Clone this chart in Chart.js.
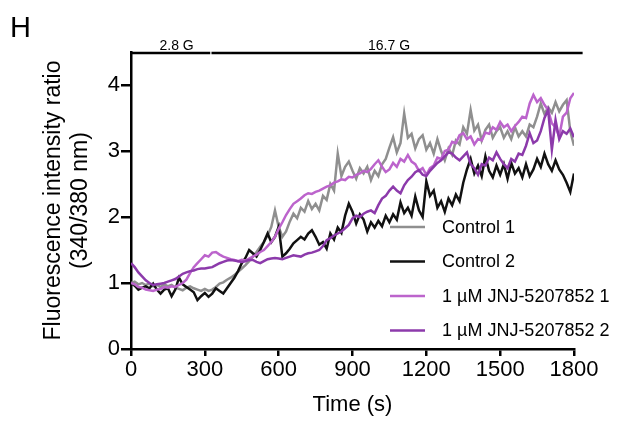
<!DOCTYPE html>
<html>
<head>
<meta charset="utf-8">
<title>Fluorescence intensity ratio</title>
<script src="https://cdn.jsdelivr.net/npm/chart.js@4.4.1/dist/chart.umd.min.js"></script>
<style>
    html, body { margin: 0; padding: 0; background: #fff; }
    #wrap { width: 619px; height: 421px; }
</style>
</head>
<body>
<div id="wrap"><canvas id="fluoChart" width="619" height="421"></canvas></div>
<script>
// sample times (s)
const timeSeconds = [
    0, 15, 30, 45, 60, 75, 90, 105, 120, 135,
    150, 165, 180, 195, 210, 225, 240, 255, 270, 285,
    300, 315, 330, 345, 360, 375, 390, 405, 420, 435,
    450, 465, 480, 495, 510, 525, 540, 555, 570, 585,
    600, 615, 630, 645, 660, 675, 690, 705, 720, 735,
    750, 765, 780, 795, 810, 825, 840, 855, 870, 885,
    900, 915, 930, 945, 960, 975, 990, 1005, 1020, 1035,
    1050, 1065, 1080, 1095, 1110, 1125, 1140, 1155, 1170, 1185,
    1200, 1215, 1230, 1245, 1260, 1275, 1290, 1305, 1320, 1335,
    1350, 1365, 1380, 1395, 1410, 1425, 1440, 1455, 1470, 1485,
    1500, 1515, 1530, 1545, 1560, 1575, 1590, 1605, 1620, 1635,
    1650, 1665, 1680, 1695, 1710, 1725, 1740, 1755, 1770, 1785,
    1800
];

const control1 = [
    1.00, 1.02, 0.98, 1.00, 0.97, 0.99, 0.95, 0.97, 0.94, 0.98,
    0.95, 0.97, 0.93, 0.91, 0.89, 0.93, 0.95, 0.92, 0.90, 0.88,
    0.91, 0.88, 0.90, 0.94, 0.99, 1.01, 1.05, 1.08, 1.12, 1.17,
    1.22, 1.27, 1.33, 1.40, 1.47, 1.55, 1.62, 1.72, 1.85, 2.10,
    1.85, 1.70, 1.78, 1.93, 2.05, 1.98, 2.14, 2.08, 2.24, 2.12,
    2.20, 2.10, 2.32, 2.26, 2.50, 2.40, 2.96, 2.62, 2.76, 2.84,
    2.70, 2.58, 2.74, 2.66, 2.76, 2.56, 2.70, 2.62, 2.80, 2.88,
    3.05, 3.21, 2.98, 3.12, 3.57, 3.20, 3.26, 3.04, 3.18, 3.24,
    3.02, 3.12, 2.96, 3.18, 3.00, 2.86, 3.04, 2.94, 3.16, 3.10,
    3.36, 3.26, 3.62, 3.31, 3.40, 3.16, 3.32, 3.40, 3.20, 3.30,
    3.36, 3.20, 3.30, 3.18, 3.36, 3.22, 3.30, 3.22, 3.40, 3.36,
    3.52, 3.72, 3.56, 3.66, 3.58, 3.74, 3.60, 3.70, 3.77, 3.30,
    3.08
];

const control2 = [
    1.00, 0.96, 0.90, 0.93, 0.95, 0.92, 0.99, 0.90, 0.84, 0.90,
    0.92, 0.80, 0.90, 1.08, 0.98, 0.94, 0.90, 0.86, 0.74, 0.80,
    0.85, 0.79, 0.84, 0.92, 0.88, 0.84, 0.92, 1.00, 1.08, 1.18,
    1.30, 1.38, 1.50, 1.45, 1.40, 1.50, 1.62, 1.75, 1.62, 1.70,
    1.85, 1.40, 1.45, 1.52, 1.60, 1.65, 1.70, 1.66, 1.75, 1.80,
    1.70, 1.58, 1.62, 1.52, 1.75, 1.66, 1.84, 1.76, 2.02, 2.20,
    2.08, 1.90, 2.04, 1.96, 1.78, 1.92, 1.84, 1.94, 1.86, 2.02,
    1.92, 2.04, 1.96, 2.22, 2.06, 2.14, 2.02, 2.31, 2.10, 2.00,
    2.54, 2.32, 2.40, 2.14, 2.24, 2.08, 2.28, 2.18, 2.34, 2.24,
    2.52, 2.72, 2.88, 2.66, 2.78, 2.62, 2.92, 2.70, 2.60, 2.78,
    2.64, 2.80, 2.58, 2.82, 2.66, 2.74, 2.60, 2.80, 2.62, 2.72,
    2.88, 2.76, 2.96, 2.80, 2.70, 2.86, 2.72, 2.64, 2.52, 2.38,
    2.66
];

const jnj1 = [
    1.00, 0.98, 0.94, 0.93, 0.90, 0.89, 0.88, 0.90, 0.91, 0.94,
    0.93, 0.95, 0.94, 0.97, 1.00, 1.05, 1.15, 1.24, 1.30, 1.36,
    1.42, 1.40, 1.46, 1.47, 1.43, 1.40, 1.38, 1.36, 1.35, 1.33,
    1.35, 1.34, 1.37, 1.40, 1.43, 1.47, 1.50, 1.56, 1.62, 1.70,
    1.82, 1.92, 2.03, 2.12, 2.20, 2.24, 2.28, 2.33, 2.36, 2.35,
    2.38, 2.40, 2.43, 2.46, 2.48, 2.52, 2.54, 2.57, 2.56, 2.61,
    2.60, 2.64, 2.66, 2.70, 2.68, 2.73, 2.80, 2.86, 2.76, 2.68,
    2.72, 2.82, 2.76, 2.88, 2.84, 2.94, 2.84, 2.80, 2.70, 2.74,
    2.64, 2.74, 2.78, 2.90, 2.88, 3.00, 3.02, 3.14, 3.12, 3.24,
    3.27, 3.18, 3.22, 3.10, 3.18, 3.16, 3.28, 3.26, 3.36, 3.32,
    3.44, 3.36, 3.40, 3.30, 3.38, 3.44, 3.52, 3.50, 3.72, 3.85,
    3.74, 3.80, 3.70, 3.62, 3.42, 3.36, 3.22, 3.52, 3.58, 3.80,
    3.88
];

const jnj2 = [
    1.30, 1.24, 1.16, 1.10, 1.04, 1.00, 0.97, 0.98, 0.99, 1.00,
    1.02, 1.04, 1.06, 1.10, 1.14, 1.16, 1.18, 1.19, 1.21, 1.22,
    1.22, 1.23, 1.24, 1.27, 1.30, 1.32, 1.34, 1.35, 1.34, 1.33,
    1.32, 1.33, 1.35, 1.35, 1.32, 1.30, 1.33, 1.36, 1.37, 1.38,
    1.37, 1.36, 1.38, 1.40, 1.42, 1.41, 1.40, 1.43, 1.45, 1.46,
    1.48, 1.50, 1.56, 1.65, 1.68, 1.72, 1.75, 1.78, 1.83, 1.88,
    1.98, 2.02, 2.00, 2.05, 2.08, 2.10, 2.06, 2.18, 2.28, 2.32,
    2.40, 2.46, 2.40, 2.36, 2.48, 2.56, 2.61, 2.68, 2.71, 2.64,
    2.62, 2.70, 2.76, 2.82, 2.86, 2.92, 2.98, 2.96, 2.90, 2.86,
    2.92, 2.98, 2.80, 2.74, 2.64, 2.80, 2.78, 2.90, 2.86, 2.98,
    2.88, 2.80, 2.74, 2.88, 2.84, 2.96, 2.94, 3.08, 3.27, 3.12,
    3.16, 3.30, 3.50, 3.62, 3.02, 3.47, 3.18, 3.30, 3.26, 3.34,
    3.21
];

const seriesNames = ['Control 1', 'Control 2', '1 µM JNJ-5207852 1', '1 µM JNJ-5207852 2'];
const seriesValues = [control1, control2, jnj1, jnj2];
const seriesColors = ['#8f8f8f', '#111111', '#bc64cc', '#8c3aab'];

const xTicks = [0, 300, 600, 900, 1200, 1500, 1800];
const yTicks = [0, 1, 2, 3, 4];

// glucose periods shown above the plot (s)
const glucoseLabels = ['2.8 G', '16.7 G'];
const glucosePeriods = [[0, 322], [327, 1835]];

const FONT = "'Liberation Sans', Arial, sans-serif";

function toPoints(values) {
    return values.map((v, i) => ({ x: timeSeconds[i], y: v }));
}

const datasets = seriesNames.map((name, i) => ({
    label: name,
    data: toPoints(seriesValues[i]),
    borderColor: seriesColors[i],
    backgroundColor: seriesColors[i],
    borderWidth: 2.5,
    pointRadius: 0,
    tension: 0,
    order: seriesNames.length - i
}));

// Top bar with glucose labels, panel letter and the legend
const decorPlugin = {
    id: 'decor',
    afterDraw(chart) {
        const ctx = chart.ctx;
        const x = chart.scales.x;
        const barY = chart.chartArea.top + 1;

        ctx.save();
        ctx.strokeStyle = '#000';
        ctx.lineWidth = 2.5;
        ctx.fillStyle = '#000';
        ctx.font = '14px ' + FONT;
        ctx.textAlign = 'center';
        ctx.textBaseline = 'alphabetic';
        glucosePeriods.forEach((p, i) => {
            const x0 = x.getPixelForValue(p[0]);
            const x1 = x.getPixelForValue(p[1]);
            ctx.beginPath();
            ctx.moveTo(x0, barY);
            ctx.lineTo(x1, barY);
            ctx.stroke();
            const cx = i === 0 ? (x0 + x1) / 2 + 6 : (x0 + x1) / 2 - 8;
            ctx.fillText(glucoseLabels[i], cx, barY - 3);
        });

        // panel letter
        ctx.textAlign = 'left';
        ctx.font = '29px ' + FONT;
        ctx.fillText('H', 10, 37);

        // legend
        ctx.font = '18px ' + FONT;
        ctx.textBaseline = 'middle';
        chart.data.datasets.forEach((ds, i) => {
            const y = 227 + i * 34.5;
            ctx.strokeStyle = ds.borderColor;
            ctx.lineWidth = 2.5;
            ctx.beginPath();
            ctx.moveTo(390, y);
            ctx.lineTo(425, y);
            ctx.stroke();
            ctx.fillStyle = '#000';
            ctx.fillText(ds.label, 442, y + 1);
        });
        ctx.restore();
    }
};

const ctx = document.getElementById('fluoChart').getContext('2d');

new Chart(ctx, {
    type: 'line',
    data: { datasets: datasets },
    options: {
        responsive: false,
        devicePixelRatio: 1,
        animation: false,
        layout: {
            padding: { top: 52, right: 45, bottom: 0, left: 0 }
        },
        plugins: {
            legend: { display: false },
            tooltip: { enabled: false }
        },
        scales: {
            x: {
                type: 'linear',
                min: 0,
                max: 1800,
                afterFit: (scale) => { scale.height = 72; },
                afterBuildTicks: (scale) => { scale.ticks = xTicks.map(v => ({ value: v })); },
                border: { display: true, color: '#000', width: 2.5 },
                grid: { drawOnChartArea: false, drawTicks: true, tickLength: 7, color: '#000', lineWidth: 2.5 },
                ticks: {
                    color: '#000',
                    padding: 1,
                    maxRotation: 0,
                    font: { family: FONT, size: 22 },
                    callback: (value) => String(value)
                },
                title: {
                    display: true,
                    text: 'Time (s)',
                    color: '#000',
                    font: { family: FONT, size: 22, lineHeight: 1.2 },
                    padding: { top: 0, bottom: 3 }
                }
            },
            y: {
                type: 'linear',
                min: 0,
                max: 4.5,
                afterFit: (scale) => { scale.width = 131; },
                afterBuildTicks: (scale) => { scale.ticks = yTicks.map(v => ({ value: v })); },
                border: { display: true, color: '#000', width: 2.5 },
                grid: { drawOnChartArea: false, drawTicks: true, tickLength: 10, color: '#000', lineWidth: 2.5 },
                ticks: {
                    color: '#000',
                    padding: 1,
                    font: { family: FONT, size: 22 },
                    callback: (value) => String(value)
                },
                title: {
                    display: true,
                    text: ['Fluorescence intensity ratio', '(340/380 nm)'],
                    color: '#000',
                    font: { family: FONT, size: 23, lineHeight: 1.17 },
                    padding: { top: 40, bottom: 0 }
                }
            }
        }
    },
    plugins: [decorPlugin]
});
</script>
</body>
</html>
